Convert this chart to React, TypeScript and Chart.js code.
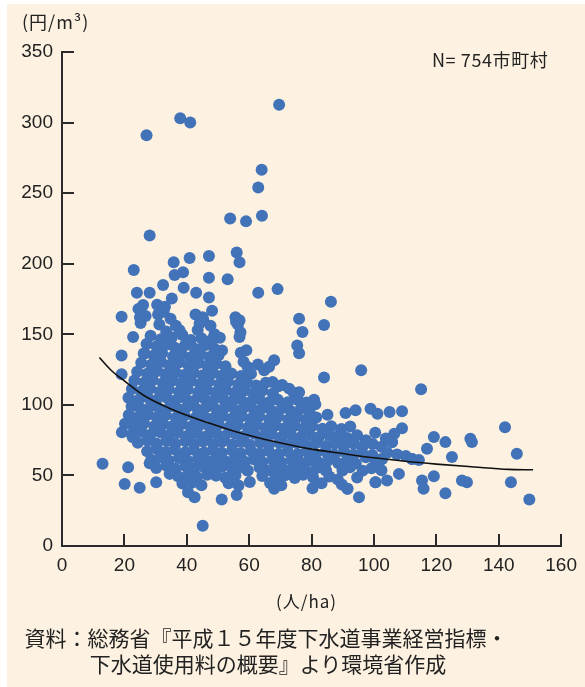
import React, { useEffect, useRef, useState } from "react";
import { Chart, registerables } from "chart.js";

Chart.register(...registerables);

// x: population density (人/ha), y: sewer charge (円/m³)
const outlierPoints: [number, number][] = [
  [69.6, 312.7], [37.9, 303], [41.1, 300], [27.1, 291], [64, 266.5], [62.9, 254],
  [64.1, 234], [53.9, 232], [59, 230], [28.1, 220], [23, 195.5], [35.8, 201],
  [40.9, 204], [47.1, 205.5], [56, 208], [56.9, 201], [38.8, 194], [36.1, 192],
  [47.1, 190], [53.1, 189], [69.1, 182], [62.9, 179.4], [24, 179.4], [28.1, 179.4],
  [32.4, 185], [39, 183], [43, 179.4], [47.1, 176], [35.2, 175.4], [26, 170.7],
  [33, 169.5], [48.1, 166.6], [19.1, 162.4], [25, 162], [30.8, 164], [45.1, 162],
  [56.9, 160], [76, 161], [86.2, 173], [84, 156.5], [77.1, 151.7], [76, 136.5],
  [75.4, 142], [84, 119.3], [95.9, 124.5], [115.1, 111], [80.8, 103.7], [76, 109],
  [19.1, 135], [19.1, 121.7], [22.8, 148], [26.5, 136.4],
];

const upperCloud: [number, number][] = [
  [24.5, 168], [26.8, 163], [25.2, 158], [30.5, 171], [32.6, 166], [34.8, 161], [31.2, 157],
  [36.5, 156], [33.4, 152], [42.8, 164], [45.3, 160], [47.6, 156], [43.5, 153], [48.9, 150],
  [56.4, 157], [57.2, 151.5], [55.6, 162], [28.4, 149], [31.7, 146.5], [35.2, 147.8],
  [38.6, 149.5], [41.3, 146], [44.7, 147.2], [47.9, 145], [50.6, 147.6], [37.7, 152.9],
  [44.1, 157.7], [47.8, 145.8], [55.8, 158.8], [56.9, 148],
  [27.1, 143.2], [30.3, 141.5], [33.5, 142.8], [36.2, 140.4], [39.4, 142.1], [42.6, 139.8],
  [45.5, 141.9], [48.7, 140.2], [51.3, 138.5],
  [26.2, 136.4], [29.4, 134.9], [32.1, 136.8], [35.6, 134.2], [38.3, 136.1], [41.2, 133.7],
  [44.4, 135.6], [47.3, 133.9], [50.2, 135.2], [57.3, 137], [59.1, 138.7],
  [25.4, 129.8], [28.6, 128.5], [31.8, 130.4], [34.5, 128.1], [37.7, 130.2], [40.6, 127.9],
  [43.8, 129.6], [46.6, 127.7], [49.5, 129.1], [52.4, 127.3], [58.2, 130.5], [59.5, 126.8],
  [62.8, 128.6], [64.8, 124.5], [68, 131.6], [66.4, 127],
];

const coreCloud: [number, number][] = [
  [24.1, 123.4], [27.3, 122.1], [30.6, 123.9], [33.2, 121.6], [36.4, 123.1], [39.1, 121.2],
  [42.3, 122.8], [45.2, 120.9], [48.4, 122.6], [51.1, 120.7], [54.3, 122.2], [57.4, 120.4],
  [60.6, 122],
  [23.2, 117.3], [26.4, 115.8], [29.1, 117.6], [32.3, 115.4], [35.5, 117.2], [38.2, 115.1],
  [41.4, 116.9], [44.3, 114.8], [47.1, 116.5], [50.4, 114.6], [53.2, 116.3], [56.5, 114.4],
  [59.3, 116.1], [62.2, 113.8], [65.3, 115.7], [67.5, 116.2], [69.4, 113.2],
  [22.4, 111.2], [25.5, 109.7], [28.3, 111.5], [31.4, 109.3], [34.2, 111.1], [37.5, 109.2],
  [40.3, 110.8], [43.6, 108.9], [46.4, 110.6], [49.2, 108.7], [52.5, 110.4], [55.3, 108.5],
  [58.6, 110.2], [61.4, 108.3], [64.2, 110], [67.6, 108.1], [70.6, 114], [72.8, 111.5],
  [74.3, 108.6],
  [21.3, 105.1], [24.6, 103.6], [27.4, 105.4], [30.2, 103.2], [33.6, 105], [36.3, 103.1],
  [39.5, 104.7], [42.2, 102.8], [45.6, 104.5], [48.3, 102.6], [51.6, 104.3], [54.4, 102.4],
  [57.2, 104.1], [60.5, 102.2], [63.3, 103.9], [66.5, 102], [69.2, 103.7], [72.4, 101.8],
  [75.6, 103.5], [78.4, 101.6],
  [22.3, 98.9], [25.2, 97.4], [28.5, 99.2], [31.3, 97.1], [34.6, 98.8], [37.4, 96.9],
  [40.2, 98.6], [43.5, 96.7], [46.3, 98.4], [49.6, 96.5], [52.3, 98.2], [55.5, 96.3],
  [58.3, 98], [61.6, 96.1], [64.4, 97.8], [67.2, 95.9], [70.5, 97.6], [73.3, 95.7],
  [76.6, 97.4], [79.3, 95.5], [81.2, 100.4],
  [21.4, 92.8], [24.3, 91.3], [27.6, 93.1], [30.4, 91], [33.2, 92.7], [36.5, 90.8],
  [39.3, 92.5], [42.6, 90.6], [45.4, 92.3], [48.2, 90.4], [51.5, 92.1], [54.3, 90.2],
  [57.6, 91.9], [60.4, 90], [63.2, 91.7], [66.5, 89.8], [69.3, 91.5], [72.6, 89.6],
  [75.4, 91.3], [78.2, 89.4], [81.5, 91.1],
  [20.2, 86.7], [23.5, 85.2], [26.3, 87], [29.6, 84.9], [32.4, 86.6], [35.2, 84.7],
  [38.5, 86.4], [41.3, 84.5], [44.6, 86.2], [47.4, 84.3], [50.2, 86], [53.5, 84.1],
  [56.3, 85.8], [59.6, 83.9], [62.4, 85.6], [65.2, 83.7], [68.5, 85.4], [71.3, 83.5],
  [74.6, 85.2], [77.4, 83.3], [80.2, 85], [83.5, 83.1], [86.3, 84.8], [89.6, 82.9],
  [92.4, 84.6],
  [19.2, 80.6], [22.4, 79.1], [25.5, 80.9], [28.3, 78.8], [31.6, 80.5], [34.4, 78.6],
  [37.2, 80.3], [40.5, 78.4], [43.3, 80.1], [46.6, 78.2], [49.4, 79.9], [52.2, 78],
  [55.5, 79.7], [58.3, 77.8], [61.6, 79.5], [64.4, 77.6], [67.2, 79.3], [70.5, 77.4],
  [73.3, 79.1], [76.6, 77.2], [79.4, 78.9], [82.2, 77], [85.5, 78.7], [88.8, 78.3],
  [91.4, 76.6], [94.6, 78.4], [97.4, 74.8], [21.7, 86.6],
  [22.7, 77], [24.3, 73.1], [27.4, 74.8], [30.2, 72.7], [33.5, 74.4], [36.3, 72.5],
  [39.6, 74.2], [42.4, 72.3], [45.2, 74], [48.5, 72.1], [51.3, 73.8], [54.6, 71.9],
  [57.4, 73.6], [60.2, 71.7], [63.5, 73.4], [66.3, 71.5], [69.6, 73.2], [72.4, 71.3],
  [75.2, 73], [78.5, 71.1], [81.3, 72.8], [84.6, 70.9], [87.4, 72.6], [90.2, 70.7],
  [93.5, 72.4], [96.3, 70.5], [99.6, 72.2], [102.4, 70.3], [105.8, 73.6],
  [27.3, 67.2], [30.5, 68.8], [33.4, 66.6], [36.2, 68.4], [39.5, 66.5], [42.3, 68.1],
  [45.6, 66.2], [48.4, 67.9], [51.2, 66], [54.5, 67.7], [57.3, 65.8], [60.6, 67.5],
  [63.4, 65.6], [66.2, 67.3], [69.5, 65.4], [72.3, 67.1], [75.6, 65.2], [78.4, 66.9],
  [81.2, 65], [84.5, 66.7], [87.3, 64.8], [90.6, 66.5], [93.4, 64.6], [96.2, 66.3],
  [99.5, 64.4], [102.6, 61.7], [104.3, 66.1], [107.4, 64.8], [110.2, 63.7], [112.2, 61.7],
  [114.4, 61],
  [28.6, 61.1], [31.4, 62.7], [34.2, 60.5], [37.5, 62.3], [40.3, 60.4], [43.6, 62],
  [46.4, 60.1], [49.2, 61.8], [52.5, 59.9], [55.3, 61.6], [58.6, 59.7], [61.4, 61.4],
  [64.2, 59.5], [67.5, 61.2], [70.3, 59.3], [73.6, 61], [76.4, 59.1], [79.2, 60.8],
  [82.5, 58.9], [85.3, 60.6], [88.6, 58.7], [91.4, 60.4], [94.2, 58.5], [97.4, 62.9],
  [100.5, 60.2],
  [28.1, 58.7], [30.2, 55.2], [33.5, 56.9], [36.3, 54.8], [39.6, 56.6], [42.4, 54.7],
  [45.2, 56.3], [48.5, 54.4], [51.3, 56.1], [54.6, 54.2], [57.4, 55.9], [59.5, 53.5],
  [63.3, 55.6], [66.5, 53.7], [69.3, 55.4], [72.6, 53.5], [75.4, 55.2], [78.2, 53.3],
  [81.5, 55], [84.6, 53.5], [89.9, 53.5], [92.3, 55.8], [96.4, 53.4], [99.2, 55.1],
  [102.4, 53.6], [108, 51.1],
  [34.5, 51.1], [37.2, 49.4], [40.4, 50.6], [43.3, 48.8], [46.5, 50.4], [49.4, 49.9],
  [52.3, 48.3], [55.6, 50.1], [64.2, 49.6], [68.4, 48.3], [71.5, 50.2], [74.6, 48.1],
  [77.3, 50.5], [80.5, 48.6], [85.7, 49.2], [88.4, 47.1], [94.6, 48.6], [100.5, 45.2],
  [104.2, 46.4],
  [38.6, 44.2], [40.4, 38.1], [42.5, 34.5], [41.8, 44.9], [44.7, 43.1], [51.2, 32.9],
  [56, 36.2], [53.4, 44.5], [56.6, 42.8], [60.2, 45.3], [68, 40.5], [66.7, 44.6],
  [70.3, 43], [80.3, 40.9], [83.2, 44.4], [91.5, 40.5], [95.2, 34.5], [89.7, 43.5],
];

const tailPoints: [number, number][] = [
  [85.1, 93], [90.9, 94.2], [94.1, 96.1], [98.9, 97.3], [101.1, 93.7], [105, 94.9],
  [109, 95.4], [109, 83.5], [142, 84.2], [130.9, 76], [119.2, 77.2], [122.9, 73.6],
  [117, 68.9], [125, 63], [145.8, 65.3], [131.4, 73.6], [119.2, 49.4], [115.4, 46.4],
  [115.9, 40.5], [122.9, 37.4], [128.2, 46.4], [129.8, 45.2], [143.9, 45.2], [149.8, 32.9],
  [91.5, 40.5], [84.6, 53.5], [100.5, 45.2], [105.8, 73.6], [97.4, 74.8], [88.8, 78.3],
  [79.2, 85.4], [102.6, 61.7], [112.2, 61.7], [106.5, 79.5], [103.8, 76.2], [100.4, 80.3],
];

const lowerPoints: [number, number][] = [
  [13, 58.2], [21.2, 55.8], [20.1, 44], [24.9, 41.2], [30.2, 45.2], [45.1, 14.4],
  [49.4, 49.9], [59.5, 53.5],
];

const xTickValues = [0, 20, 40, 60, 80, 100, 120, 140, 160];
const yTickValues = [0, 50, 100, 150, 200, 250, 300, 350];

const trendX = [12, 16, 20, 26, 34, 42, 50, 58, 68, 79, 90, 100, 110, 120, 132, 143, 151];
const trendY = [133.5, 124, 117, 107, 98, 91, 85, 79.5, 74, 69, 65.5, 62.5, 60, 58, 56, 54.3, 54];

const DOT = "#4272B8";
const INK = "#222";
const AXIS = "#2a2a2a";

type TickLayout = { xs: number[]; ys: number[]; left: number; bottom: number };

export default function App() {
  const ref = useRef<HTMLCanvasElement | null>(null);
  const [ticks, setTicks] = useState<TickLayout | null>(null);

  useEffect(() => {
    if (!ref.current) return;
    const all = [...outlierPoints, ...upperCloud, ...coreCloud, ...tailPoints, ...lowerPoints];
    const chart = new Chart(ref.current, {
      type: "scatter",
      data: {
        datasets: [
          {
            type: "line",
            data: trendX.map((x, i) => ({ x, y: trendY[i] })),
            borderColor: "#111",
            borderWidth: 1.6,
            pointRadius: 0,
            fill: false,
            cubicInterpolationMode: "monotone",
            order: 0,
          } as any,
          {
            type: "scatter",
            data: all.map(([x, y]) => ({ x, y })),
            backgroundColor: DOT,
            borderWidth: 0,
            pointRadius: 6,
            order: 1,
          },
        ],
      },
      options: {
        responsive: false,
        animation: false,
        devicePixelRatio: 1,
        layout: { padding: { left: 0, right: 7, top: 52, bottom: 0 } },
        plugins: { legend: { display: false }, tooltip: { enabled: false } },
        scales: {
          x: {
            type: "linear",
            min: 0,
            max: 160,
            ticks: {
              stepSize: 20,
              color: INK,
              font: { family: "'Liberation Sans', sans-serif", size: 19 },
              padding: 8,
              maxRotation: 0,
            },
            grid: { drawOnChartArea: false, drawTicks: false },
            border: { color: AXIS, width: 2 },
            afterFit: (s: any) => { s.height = 141; },
          },
          y: {
            type: "linear",
            min: 0,
            max: 350,
            ticks: {
              stepSize: 50,
              color: INK,
              font: { family: "'Liberation Sans', sans-serif", size: 19 },
              padding: 9,
            },
            grid: { drawOnChartArea: false, drawTicks: false },
            border: { color: AXIS, width: 2 },
            afterFit: (s: any) => { s.width = 62; },
          },
        },
      },
    });
    // inward tick marks placed with the chart's own scales
    const sx: any = chart.scales.x;
    const sy: any = chart.scales.y;
    setTicks({
      xs: xTickValues.map((v) => sx.getPixelForValue(v)),
      ys: yTickValues.map((v) => sy.getPixelForValue(v)),
      left: chart.chartArea.left,
      bottom: chart.chartArea.bottom,
    });
    return () => chart.destroy();
  }, []);

  const jp = "'Noto Sans CJK JP', sans-serif";
  const txt: React.CSSProperties = { position: "absolute", whiteSpace: "nowrap", lineHeight: 1, color: INK, fontFamily: jp };

  return (
    <div style={{ position: "fixed", left: 0, top: 0, width: 585, height: 687, background: "#fff", overflow: "hidden" }}>
      <div style={{ position: "absolute", left: 7, top: 4, width: 578, height: 683, background: "#FDF2E1" }} />
      <canvas ref={ref} width={585} height={687} style={{ position: "absolute", left: 0, top: 0, width: 585, height: 687 }} />
      {ticks &&
        ticks.xs.map((px, i) => (
          <div key={"xt" + i} style={{ position: "absolute", left: Math.round(px) - 1, top: Math.round(ticks.bottom) - 12, width: 2, height: 12, background: AXIS }} />
        ))}
      {ticks &&
        ticks.ys.map((py, i) => (
          <div key={"yt" + i} style={{ position: "absolute", left: Math.round(ticks.left), top: Math.round(py) - 1, width: 12, height: 2, background: AXIS }} />
        ))}
      <div style={{ ...txt, left: 22, top: 12, fontSize: 18, letterSpacing: 1 }}>(円/m³)</div>
      <div style={{ ...txt, left: 432, top: 50, fontSize: 18, letterSpacing: 0.6 }}>N= 754市町村</div>
      <div style={{ ...txt, left: 276, top: 592, fontSize: 17, letterSpacing: 1 }}>(人/ha)</div>
      <div style={{ ...txt, left: 266 - 300, width: 600, textAlign: "center", top: 627, fontSize: 21 }}>
        資料：総務省『平成１５年度下水道事業経営指標・
      </div>
      <div style={{ ...txt, left: 268 - 300, width: 600, textAlign: "center", top: 653, fontSize: 21 }}>
        下水道使用料の概要』より環境省作成
      </div>
    </div>
  );
}
